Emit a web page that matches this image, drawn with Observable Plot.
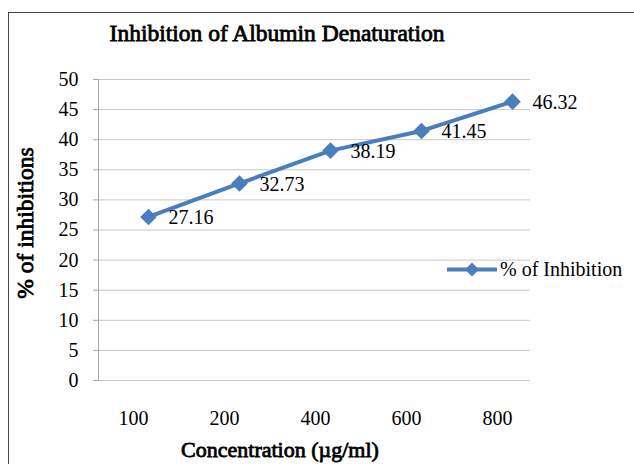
<!DOCTYPE html>
<html>
<head>
<meta charset="utf-8">
<script src="https://cdn.jsdelivr.net/npm/d3@7"></script>
<script src="https://cdn.jsdelivr.net/npm/@observablehq/plot@0.6"></script>
<style>
  html, body { margin: 0; padding: 0; background: #fff; overflow: hidden; }
  #wrap { position: relative; width: 634px; height: 464px; font-family: "Liberation Serif", serif; }
  #frame { position: absolute; left: 8px; top: 12px; width: 640px; height: 470px; border: 1.5px solid #444; box-sizing: border-box; }
  #chart { position: absolute; left: 0; top: 0; }
  .t { position: absolute; white-space: nowrap; color: #000; font-family: "Liberation Serif", serif; }
  .b { font-weight: normal; -webkit-text-stroke: 0.8px #000; }
  #title { left: 277px; top: 33px; transform: translate(-50%, -50%); font-size: 23.5px; }
  #xtitle { left: 280px; top: 450px; transform: translate(-50%, -50%); font-size: 22px; }
  #ytitle { left: 25px; top: 223px; transform: translate(-50%, -50%) rotate(-90deg); font-size: 23.5px; }
  #legend { left: 446px; top: 269px; transform: translate(0, -50%); font-size: 20px; display: flex; align-items: center; }
</style>
</head>
<body>
<div id="wrap">
  <div id="frame"></div>
  <div id="chart"></div>
  <div class="t b" id="title">Inhibition of Albumin Denaturation</div>
  <div class="t b" id="xtitle">Concentration (µg/ml)</div>
  <div class="t b" id="ytitle">% of inhibitions</div>
  <div class="t" id="legend"><svg width="52" height="14" style="margin-right:2px"><line x1="1" y1="7" x2="51" y2="7" stroke="#4a7ebb" stroke-width="4"/><polygon points="26,0 33,7 26,14 19,7" fill="#4a7ebb"/></svg><span>% of Inhibition</span></div>
</div>
<script>
const concentrations = ["100", "200", "400", "600", "800"];
const inhibition = [27.16, 32.73, 38.19, 41.45, 46.32];
const yTicks = [0, 5, 10, 15, 20, 25, 30, 35, 40, 45, 50];
const seriesName = "% of Inhibition";

const data = concentrations.map((c, i) => ({ c, v: inhibition[i] }));
const blue = "#4a7ebb";
const font = "Liberation Serif";

const chart = Plot.plot({
  width: 634,
  height: 464,
  marginLeft: 98,
  marginRight: 104,
  marginTop: 79,
  marginBottom: 84,
  style: { fontFamily: font, background: "transparent", color: "#000" },
  x: { type: "point", domain: concentrations, range: [147, 512], padding: 0 },
  y: { domain: [0, 50], ticks: yTicks },
  marks: [
    Plot.gridY(yTicks, { stroke: "#c8c8c8", strokeOpacity: 1, strokeWidth: 1 }),
    Plot.frame({ anchor: "left", stroke: "#a6a6a6", strokeWidth: 1 }),
    Plot.axisY(yTicks, { tickSize: 5, tickPadding: 15, stroke: "#a6a6a6", fontSize: 20, fill: "#000", label: null, tickFormat: d => String(d) }),
    Plot.axisX({ tickSize: 0, tickPadding: 30, dx: -15, fontSize: 20, fill: "#000", label: null }),
    Plot.line(data, { x: "c", y: "v", stroke: blue, strokeWidth: 4 }),
    Plot.dot(data, { x: "c", y: "v", symbol: "diamond2", r: 7.5, fill: blue, stroke: "none" }),
    Plot.text(data, { x: "c", y: "v", text: d => d.v.toFixed(2), dx: 20, dy: 1, textAnchor: "start", fontSize: 20, fill: "#000" })
  ]
});
document.getElementById("chart").appendChild(chart);
</script>
</body>
</html>
